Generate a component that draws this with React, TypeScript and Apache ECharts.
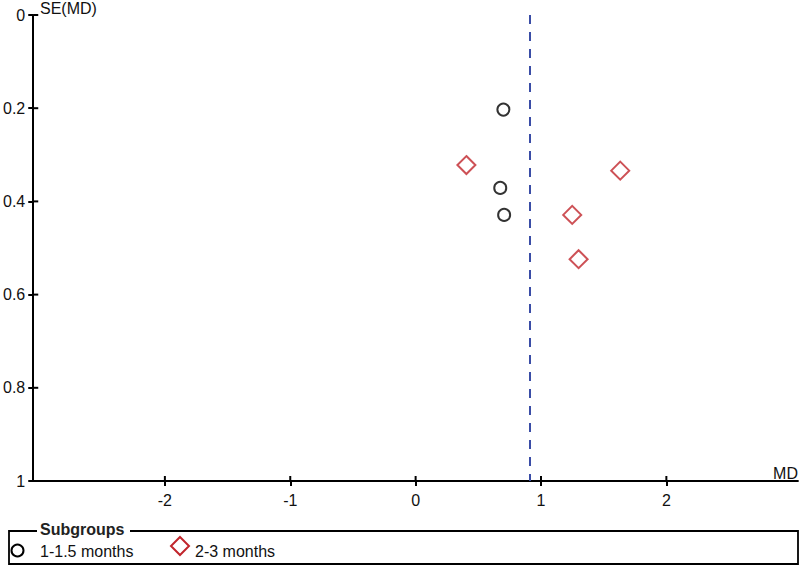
import React, { useEffect, useRef } from "react";
import * as echarts from "echarts";

// Subgroup 1-1.5 months: [MD, SE(MD)]
const groupA: [number, number][] = [
  [0.70, 0.203],
  [0.675, 0.371],
  [0.706, 0.429],
];
// Subgroup 2-3 months
const groupB: [number, number][] = [
  [0.405, 0.322],
  [1.632, 0.334],
  [1.249, 0.429],
  [1.30, 0.524],
];
const pooledMD = 0.907;
const xTicks = [-2, -1, 0, 1, 2];
const yTicks = [0, 0.2, 0.4, 0.6, 0.8, 1];
const xMin = -3.05;
const xMax = 3.05;
const seriesNames = ["1-1.5 months", "2-3 months"];

export default function App() {
  const ref = useRef<HTMLDivElement>(null);
  useEffect(() => {
    if (!ref.current) return;
    const chart = echarts.init(ref.current, undefined, { renderer: "svg" });
    const font = "Liberation Sans, Arial, sans-serif";
    const red = "#c1252c";
    chart.setOption({
      animation: false,
      textStyle: { fontFamily: font },
      grid: { left: 30, right: 2, top: 15, bottom: 86, containLabel: false },
      xAxis: {
        type: "value",
        min: xMin,
        max: xMax,
        position: "bottom",
        axisLine: { show: true, onZero: false, lineStyle: { color: "#000", width: 1.8 } },
        axisTick: { show: true, length: 5, customValues: xTicks, lineStyle: { color: "#000", width: 2 } },
        axisLabel: { customValues: xTicks, margin: 11, color: "#111", fontSize: 16, fontFamily: font },
        splitLine: { show: false },
      },
      yAxis: {
        type: "value",
        inverse: true,
        min: 0,
        max: 1,
        interval: 0.2,
        position: "left",
        axisLine: { show: true, onZero: false, lineStyle: { color: "#000", width: 2 } },
        axisTick: { show: true, length: 5, lineStyle: { color: "#000", width: 2 } },
        axisLabel: { margin: 8, color: "#111", fontSize: 16, fontFamily: font },
        splitLine: { show: false },
      },
      series: [
        {
          type: "custom",
          silent: true,
          clip: false,
          data: xTicks.map((v) => [v, 1]),
          encode: { x: 0, y: 1 },
          renderItem: (params: any, api: any) => {
            const p = api.coord([api.value(0), api.value(1)]);
            return {
              type: "rect",
              shape: { x: p[0] - 1, y: p[1] - 5, width: 2, height: 5 },
              style: { fill: "#000" },
            };
          },
          z: 5,
        },
        {
          type: "custom",
          silent: true,
          clip: false,
          data: yTicks.map((v) => [xMin, v]),
          encode: { x: 0, y: 1 },
          renderItem: (params: any, api: any) => {
            const p = api.coord([api.value(0), api.value(1)]);
            return {
              type: "rect",
              shape: { x: p[0], y: p[1] - 1, width: 5, height: 2 },
              style: { fill: "#000" },
            };
          },
          z: 5,
        },
        {
          name: seriesNames[0],
          type: "scatter",
          data: groupA,
          symbol: "circle",
          symbolSize: 12,
          itemStyle: { color: "#fff", borderColor: "#000", borderWidth: 2 },
          markLine: {
            silent: true,
            symbol: "none",
            label: { show: false },
            lineStyle: { color: "#3a4da6", width: 2, type: [9, 8] },
            data: [[{ coord: [pooledMD, 0] }, { coord: [pooledMD, 1] }]],
          },
          z: 3,
        },
        {
          name: seriesNames[1],
          type: "scatter",
          data: groupB,
          symbol: "diamond",
          symbolSize: [18, 18],
          itemStyle: { color: "#fff", borderColor: red, borderWidth: 2 },
          z: 3,
        },
      ],
      graphic: [
        { type: "text", x: 40, y: 8.5, style: { text: "SE(MD)", fontSize: 16, fontFamily: font, fill: "#111", verticalAlign: "middle" } },
        { type: "text", x: 798, y: 473, style: { text: "MD", fontSize: 16, fontFamily: font, fill: "#111", align: "right", verticalAlign: "middle" } },
        {
          type: "rect",
          shape: { x: 9, y: 531, width: 789, height: 33 },
          style: { fill: "none", stroke: "#000", lineWidth: 1.8 },
          z: 10,
        },
        {
          type: "rect",
          shape: { x: 37, y: 522, width: 93, height: 15 },
          style: { fill: "#fff" },
          z: 11,
        },
        {
          type: "text",
          x: 40,
          y: 529.5,
          style: { text: "Subgroups", fontSize: 16, fontWeight: "bold", fontFamily: font, fill: "#222", verticalAlign: "middle" },
          z: 12,
        },
        {
          type: "circle",
          shape: { cx: 17.5, cy: 550.5, r: 6 },
          style: { fill: "none", stroke: "#000", lineWidth: 2 },
          z: 12,
        },
        {
          type: "text",
          x: 40,
          y: 551.5,
          style: { text: seriesNames[0], fontSize: 16, fontFamily: font, fill: "#111", verticalAlign: "middle" },
          z: 12,
        },
        {
          type: "polygon",
          shape: { points: [[180, 537], [189, 546], [180, 555], [171, 546]] },
          style: { fill: "none", stroke: red, lineWidth: 2 },
          z: 12,
        },
        {
          type: "text",
          x: 195,
          y: 551.5,
          style: { text: seriesNames[1], fontSize: 16, fontFamily: font, fill: "#111", verticalAlign: "middle" },
          z: 12,
        },
      ],
    });
    return () => chart.dispose();
  }, []);
  return <div ref={ref} style={{ position: "fixed", left: 0, top: 0, width: 800, height: 567, background: "#fff" }} />;
}
